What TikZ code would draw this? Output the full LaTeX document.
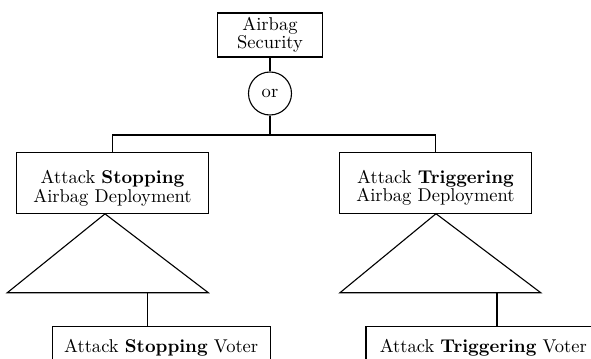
\documentclass[tikz,border=0pt]{standalone}
\usepackage{tikz}
\newcommand{\pxu}{0.54pt}
\tikzset{
  base/.style={draw, line width=0.6pt, inner sep=0pt, align=center,
    font=\fontsize{10}{10}\selectfont},
  goalbox/.style={base, rectangle, minimum width=105*\pxu, minimum height=44*\pxu},
  gatecirc/.style={base, circle, minimum size=43*\pxu},
  attackbox/.style={base, rectangle, minimum width=192*\pxu, minimum height=61*\pxu},
  voterbox/.style={base, rectangle, minimum height=41.4*\pxu,
    text height=6.94pt, text depth=1.94pt},
  wire/.style={line width=0.6pt},
}
% a top strut that lowers the two-line text inside the attack boxes
\newcommand{\lowtop}{\rule{0pt}{12.3pt}}
\begin{document}
\begin{tikzpicture}[x=0.54pt, y=-0.54pt]
  \useasboundingbox (0,0) rectangle (591,359);
  \clip (0,0) rectangle (591,359);

  % goal and gate
  \node[goalbox] (goal) at (270,35) {Airbag\\Security};
  \node[gatecirc] (or) at (270,93.5) {or};
  \coordinate (bus) at (270,135);

  % the two attack subtrees
  \node[attackbox] (stop) at (112.5,183.35) {\lowtop Attack \textbf{Stopping}\\Airbag Deployment};
  \node[attackbox] (trig) at (435.5,183.2) {\lowtop Attack \textbf{Triggering}\\Airbag Deployment};

  % triangles standing for the expanded subtrees
  \coordinate (stopApex) at (105,213.85);
  \coordinate (stopBL) at (7.3,292.7);
  \coordinate (stopBR) at (208.3,292.7);
  \coordinate (stopOut) at (147.5,292.7);
  \coordinate (trigApex) at (436,213.7);
  \coordinate (trigBL) at (340,292.7);
  \coordinate (trigBR) at (540.7,292.7);
  \coordinate (trigOut) at (497,292.7);

  % voter nodes below the triangles
  \node[voterbox, minimum width=217.7*\pxu] (stopVoter) at (161.2,347.4) {Attack \textbf{Stopping} Voter};
  \node[voterbox, minimum width=234.7*\pxu] (trigVoter) at (483.35,347.4) {Attack \textbf{Triggering} Voter};

  % connectors
  \draw[wire] (goal.south) -- (or.north);
  \draw[wire] (or.south) -- (bus);
  \draw[wire] (stop.north) |- (bus) -| (trig.north);
  \draw[wire, line join=miter] (stopApex) -- (stopBR) -- (stopBL) -- cycle;
  \draw[wire, line join=miter] (trigApex) -- (trigBR) -- (trigBL) -- cycle;
  \draw[wire] (stopOut) -- (stopOut |- stopVoter.north);
  \draw[wire] (trigOut) -- (trigOut |- trigVoter.north);
\end{tikzpicture}
\end{document}
